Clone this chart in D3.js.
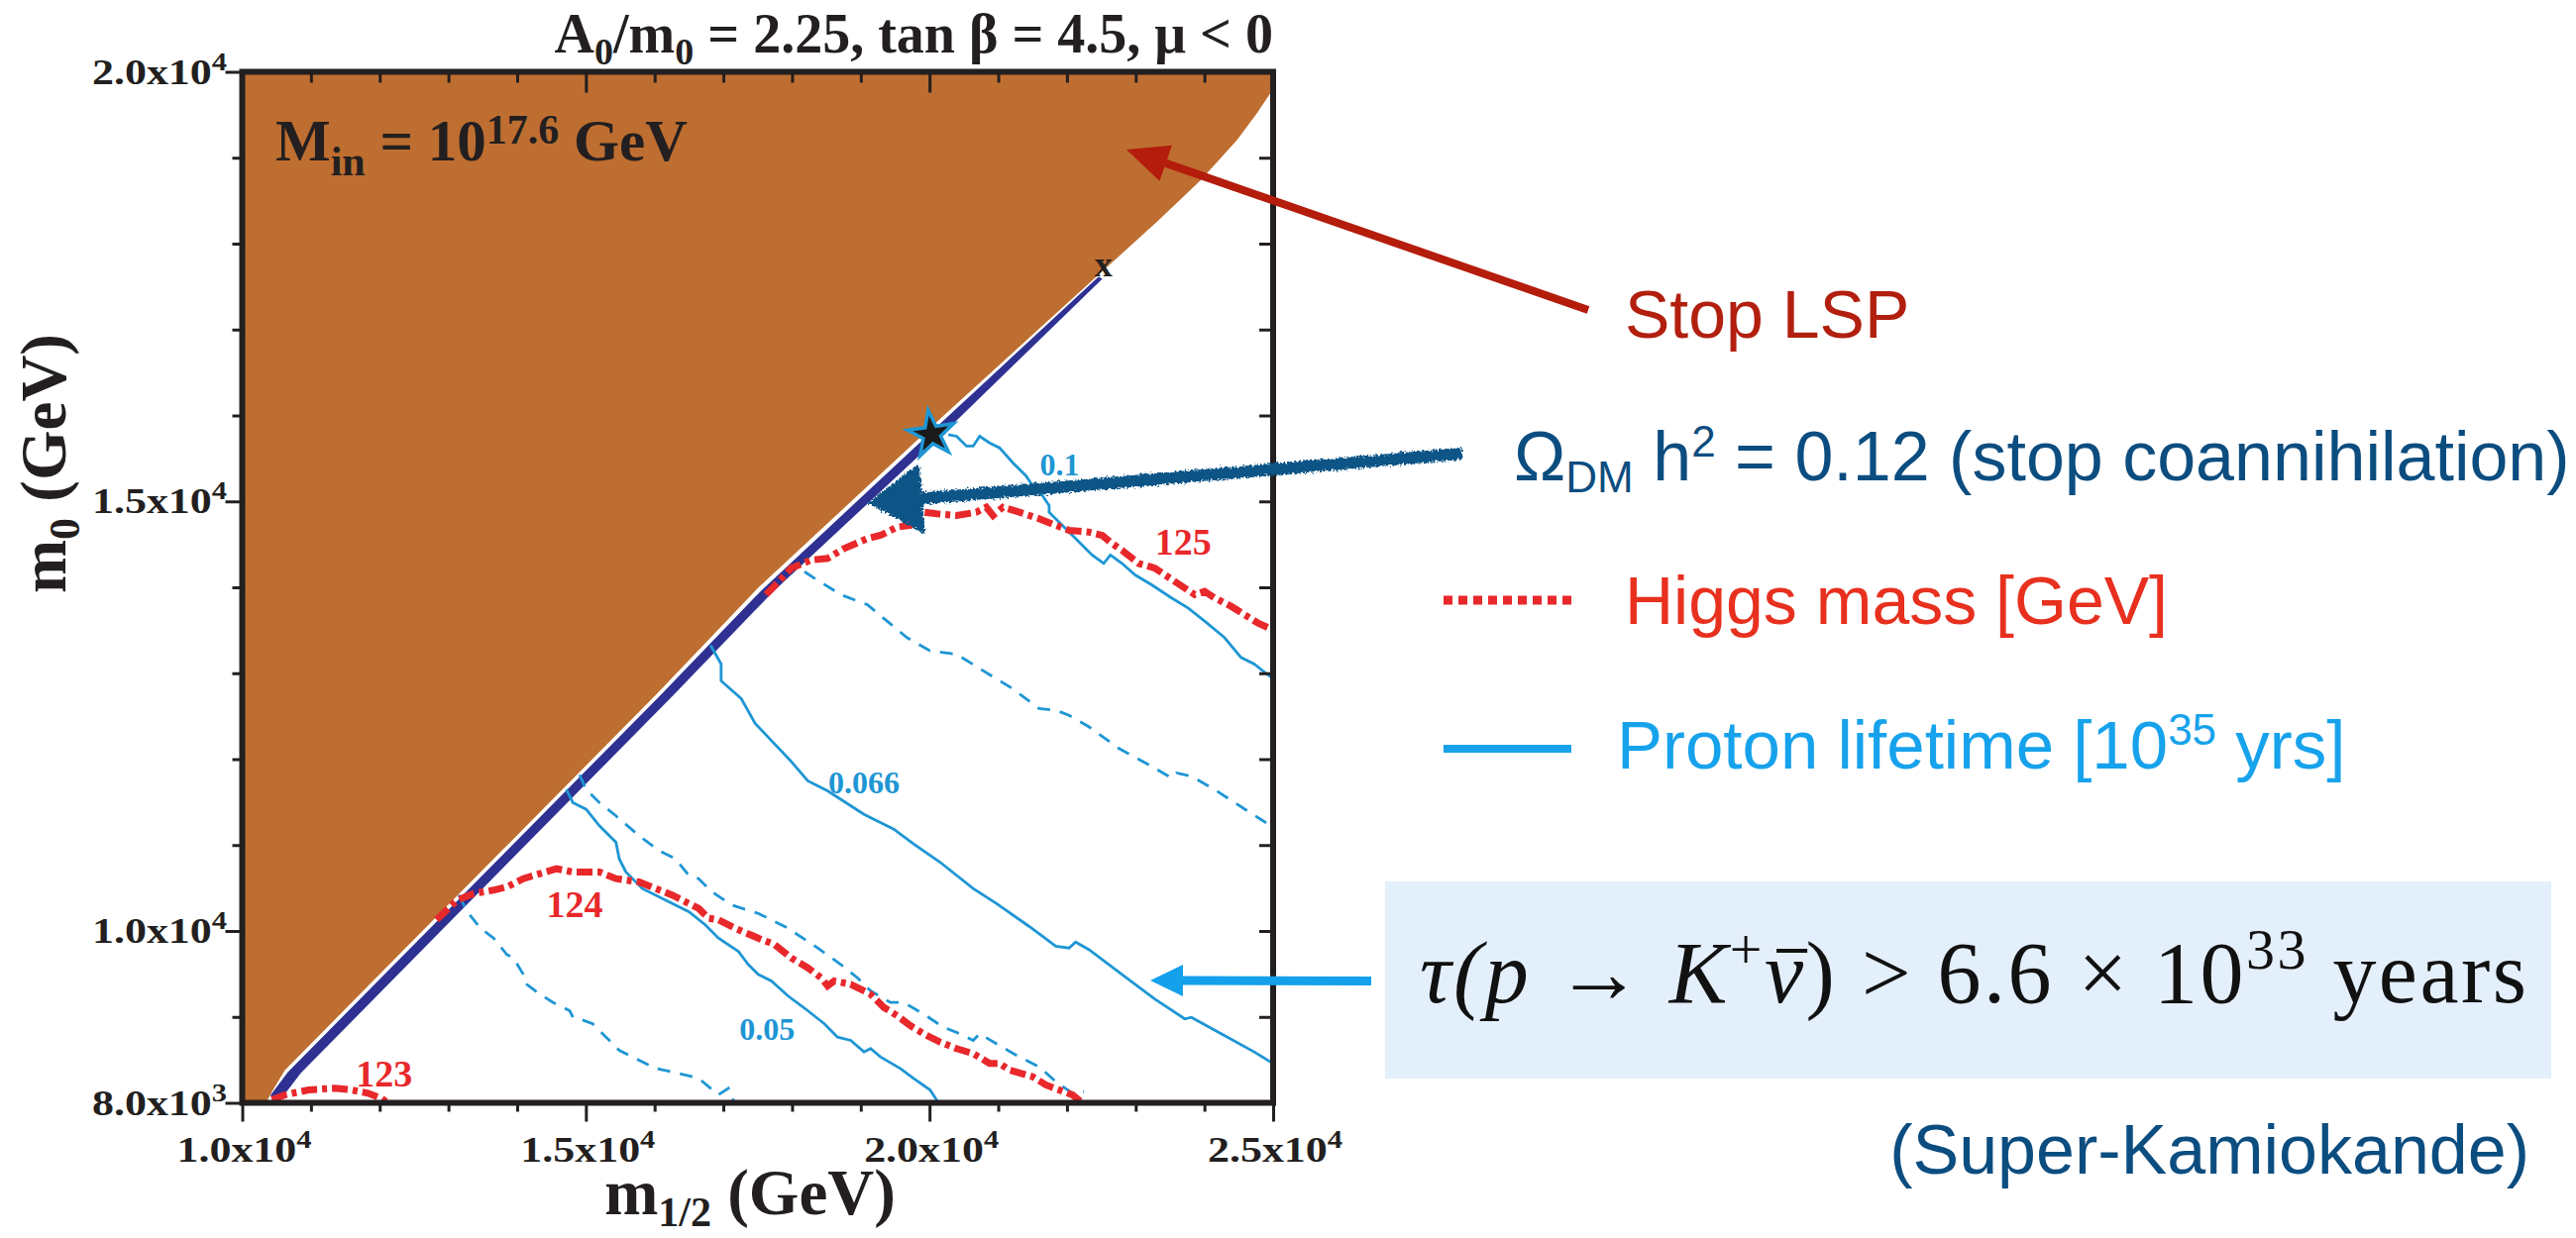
<!DOCTYPE html>
<html>
<head>
<meta charset="utf-8">
<script src="https://cdn.jsdelivr.net/npm/d3@7"></script>
<style>
  body { margin: 0; background: #fff; }
</style>
</head>
<body>
<div id="chart"></div>
<script>
// ---- data (m1/2, m0) in GeV ----
const xTickVals = [10000, 11000, 12000, 13000, 14000, 15000, 16000, 17000, 18000, 19000, 20000, 21000, 22000, 23000, 24000, 25000]
const xMajor = [10000, 15000, 20000, 25000]
const yTickVals = [8000, 9000, 10000, 11000, 12000, 13000, 14000, 15000, 16000, 17000, 18000, 19000, 20000]
const yMajor = [8000, 10000, 15000, 20000]

// stop LSP boundary (edge of excluded region), bottom -> top
const lspEdge = [[10346, 8000], [10447, 8150], [10621, 8381], [16034, 12761], [17507, 13995], [20192, 15989],
  [22458, 17637], [23324, 18265], [23945, 18738], [24479, 19210], [24768, 19522], [25000, 19798]]

// Omega h^2 = 0.12 strip
const dmBandLeft = [[10404, 8081], [10664, 8358], [16078, 12738], [17550, 13960], [20221, 15954], [22458, 17614]]
const dmBandRight = [[22516, 17591], [20336, 15896], [17709, 13937], [16265, 12738], [10852, 8346], [10577, 8058]]

// Higgs mass contours
const higgs123 = [[10433, 8035], [10625, 8093], [10963, 8150], [11347, 8170], [11588, 8150], [11829, 8112], [12021, 8054], [12118, 8000]]
const higgs124 = [[12829, 10130], [13128, 10360], [13368, 10436], [13657, 10475], [13850, 10513], [14090, 10609], [14331, 10667],
  [14572, 10724], [14812, 10686], [15197, 10686], [15438, 10609], [15774, 10571], [16015, 10494], [16255, 10418], [16449, 10340],
  [16641, 10263], [16785, 10148], [16929, 10129], [17170, 10032], [17507, 9917], [17748, 9841], [17987, 9687], [18229, 9572],
  [18420, 9456], [18517, 9361], [18614, 9418], [18854, 9380], [19142, 9265], [19336, 9110], [19528, 9015], [19720, 8899],
  [19913, 8804], [20153, 8707], [20394, 8631], [20635, 8573], [20875, 8458], [21019, 8458], [21163, 8381], [21501, 8304],
  [21693, 8208], [21885, 8150], [22079, 8093], [22223, 8000]]
const higgs125 = [[17622, 13914], [17987, 14222], [18276, 14317], [18517, 14337], [18758, 14452], [19095, 14567], [19287, 14605],
  [19528, 14701], [19720, 14721], [19913, 14874], [20105, 14855], [20394, 14836], [20683, 14874], [20827, 14932], [20924, 14836],
  [21068, 14932], [21308, 14874], [21596, 14798], [21838, 14721], [22030, 14663], [22318, 14643], [22512, 14605], [22656, 14510],
  [22800, 14432], [23040, 14279], [23281, 14222], [23570, 14067], [23859, 13914], [24003, 13952], [24147, 13876], [24388, 13779],
  [24580, 13683], [24773, 13587], [25000, 13504]]

// proton lifetime contours [10^35 yrs]
const tau010 = [[20274, 15778], [20394, 15758], [20538, 15643], [20635, 15643], [20730, 15758], [20875, 15681], [21019, 15623],
  [21212, 15450], [21404, 15297], [21501, 15182], [21645, 15066], [21741, 14951], [21741, 14874], [21934, 14721], [22126, 14567],
  [22367, 14375], [22535, 14279], [22632, 14375], [22800, 14279], [22992, 14144], [23233, 14029], [23522, 13876], [23762, 13760],
  [24003, 13606], [24292, 13415], [24533, 13184], [24725, 13107], [25000, 12934]]
const tau0066 = [[16814, 13326], [16968, 13107], [16968, 12911], [17261, 12703], [17463, 12415], [17969, 11989], [18229, 11747],
  [18517, 11631], [19047, 11358], [19480, 11185], [19769, 11012], [20153, 10801], [20635, 10494], [20971, 10321], [21452, 10052],
  [21838, 9822], [22030, 9802], [22126, 9871], [22318, 9784], [22800, 9495], [23281, 9207], [23714, 8977], [23811, 8995],
  [24244, 8804], [24725, 8592], [25000, 8458]]
const tau005 = [[14716, 11646], [14812, 11493], [15005, 11416], [15197, 11224], [15438, 11032], [15486, 10839], [15582, 10686],
  [15822, 10494], [16207, 10340], [16496, 10225], [16737, 10072], [16929, 9917], [17218, 9764], [17362, 9611], [17507, 9495],
  [17699, 9418], [17940, 9245], [18229, 9072], [18470, 8919], [18662, 8765], [18854, 8727], [19047, 8592], [19142, 8631],
  [19287, 8534], [19575, 8400], [19769, 8285], [20009, 8150], [20130, 8000]]
const tauDashUpper = [[18181, 14182], [18325, 14106], [18709, 13914], [19095, 13798], [19383, 13606], [19672, 13415], [20009, 13260],
  [20394, 13222], [20779, 13030], [21212, 12819], [21596, 12588], [21838, 12569], [22030, 12511], [22318, 12377], [22752, 12127],
  [23233, 11916], [23522, 11781], [23594, 11839], [23811, 11801], [24147, 11646], [24628, 11397], [24966, 11224], [25000, 11210]]
const tauDashMid = [[14908, 11819], [15005, 11646], [15197, 11493], [15438, 11340], [15774, 11109], [16063, 10936], [16304, 10839],
  [16496, 10648], [16641, 10609], [16833, 10456], [17121, 10302], [17507, 10205], [17940, 10032], [18373, 9802], [18709, 9611],
  [18950, 9456], [19142, 9303], [19431, 9168], [19624, 9168], [19913, 9034], [20202, 8880], [20442, 8804], [20635, 8727],
  [20730, 8804], [20971, 8688], [21308, 8534], [21596, 8419], [21838, 8246], [22079, 8112], [22246, 8131]]
const tauDashLower = [[13151, 10418], [13273, 10225], [13465, 10032], [13657, 9917], [13850, 9726], [13945, 9687], [14090, 9495],
  [14139, 9380], [14331, 9265], [14523, 9168], [14764, 9072], [14812, 8995], [14908, 8977], [15100, 8919], [15294, 8765],
  [15486, 8611], [15774, 8496], [16015, 8400], [16255, 8361], [16641, 8285], [16929, 8093], [17074, 8170], [17160, 8000]]

const starPoint = [20030, 15780]
const endMark = [22530, 17625]

const higgsLabels = [["123", 12064, 8185], ["124", 14836, 10167], ["125", 23693, 14375]]
const tauLabels = [["0.1", 21895, 15297], ["0.066", 19047, 11608], ["0.05", 17637, 8727]]

// arrow tips inside the plot
const stopTip = [22866, 19095]
const omegaTip = [19103, 14980]
const skTip = [23212, 9424]

// ---- colours ----
const brown = "#BE6E30"
const navy = "#2E3192"
const higgsRed = "#E8282B"
const tauBlue = "#1E96D4"
const ink = "#231F20"
const serif = "'Liberation Serif', 'Times New Roman', serif"
const sans = "'Liberation Sans', Arial, Helvetica, sans-serif"

let width = 2600
let height = 1250

let svg = d3.select("#chart")
  .append("svg")
  .attr("width", width)
  .attr("height", height)
  .style("background", "#fff")

let x = d3.scaleLinear().domain([10000, 25000]).range([244.5, 1285])
let y = d3.scaleLinear().domain([8000, 20000]).range([1113.5, 72.5])

let line = d3.line().x(d => x(d[0])).y(d => y(d[1]))

let defs = svg.append("defs")
defs.append("clipPath").attr("id", "plotClip")
  .append("rect")
  .attr("x", x(10000)).attr("y", y(20000))
  .attr("width", x(25000) - x(10000)).attr("height", y(8000) - y(20000))

let rough = defs.append("filter").attr("id", "rough")
  .attr("x", "-10%").attr("y", "-30%").attr("width", "120%").attr("height", "160%")
rough.append("feTurbulence").attr("type", "fractalNoise").attr("baseFrequency", 0.45)
  .attr("numOctaves", 2).attr("seed", 4).attr("result", "noise")
rough.append("feDisplacementMap").attr("in", "SourceGraphic").attr("in2", "noise")
  .attr("scale", 7).attr("xChannelSelector", "R").attr("yChannelSelector", "G")

let plot = svg.append("g").attr("clip-path", "url(#plotClip)")

// stop LSP region
let brownPoly = [[10000, 20000], [25000, 20000]].concat(lspEdge.slice().reverse(), [[10000, 8000]])
plot.append("path")
  .attr("d", line(brownPoly) + "Z")
  .attr("fill", brown)

// relic density strip
plot.append("path")
  .attr("d", line(dmBandLeft.concat(dmBandRight)) + "Z")
  .attr("fill", navy)

// proton lifetime contours
let tauSolid = [tau010, tau0066, tau005]
let tauDashed = [tauDashUpper, tauDashMid, tauDashLower]

plot.append("g")
  .selectAll("path")
  .data(tauSolid)
  .enter().append("path")
    .attr("d", line)
    .attr("fill", "none")
    .attr("stroke", tauBlue)
    .attr("stroke-width", 2.8)

plot.append("g")
  .selectAll("path")
  .data(tauDashed)
  .enter().append("path")
    .attr("d", line)
    .attr("fill", "none")
    .attr("stroke", tauBlue)
    .attr("stroke-width", 2.8)
    .attr("stroke-dasharray", "13,10")

// Higgs contours
plot.append("g")
  .selectAll("path")
  .data([higgs123, higgs124, higgs125])
  .enter().append("path")
    .attr("d", line)
    .attr("fill", "none")
    .attr("stroke", higgsRed)
    .attr("stroke-width", 7)
    .attr("stroke-dasharray", "16,5,5,5")

// star
svg.append("path")
  .attr("d", d3.symbol(d3.symbolStar, 680)())
  .attr("transform", `translate(${x(starPoint[0])},${y(starPoint[1])}) rotate(-8)`)
  .attr("fill", "#1a1a1a")
  .attr("stroke", tauBlue)
  .attr("stroke-width", 3.5)

svg.append("text")
  .attr("x", x(endMark[0]))
  .attr("y", y(endMark[1]))
  .attr("text-anchor", "middle")
  .style("font", `bold 36px ${serif}`)
  .attr("fill", ink)
  .text("x")

// contour labels
svg.append("g")
  .attr("text-anchor", "middle")
  .style("font", `bold 38px ${serif}`)
  .attr("fill", higgsRed)
  .selectAll("text")
  .data(higgsLabels)
  .enter().append("text")
    .attr("x", d => x(d[1]))
    .attr("y", d => y(d[2]))
    .text(d => d[0])

svg.append("g")
  .attr("text-anchor", "middle")
  .style("font", `bold 32px ${serif}`)
  .attr("fill", tauBlue)
  .selectAll("text")
  .data(tauLabels)
  .enter().append("text")
    .attr("x", d => x(d[1]))
    .attr("y", d => y(d[2]))
    .text(d => d[0])

// M_in label
let mIn = svg.append("text")
  .attr("x", 278).attr("y", 162)
  .style("font", `bold 59px ${serif}`)
  .attr("fill", ink)
mIn.append("tspan").text("M")
mIn.append("tspan").attr("dy", 15).attr("font-size", 42).text("in")
mIn.append("tspan").attr("dy", -15).text(" = 10")
mIn.append("tspan").attr("dy", -17).attr("font-size", 42).text("17.6")
mIn.append("tspan").attr("dy", 17).text(" GeV")

// ---- axes ----
function styleAxis(g) {
  g.select(".domain").remove()
  g.selectAll("line").attr("stroke", ink).attr("stroke-width", 3)
}
let xMinorVals = xTickVals.filter(v => !xMajor.includes(v))
let yMinorVals = yTickVals.filter(v => !yMajor.includes(v))

svg.append("g").attr("transform", `translate(0,${y(8000)})`)
  .call(d3.axisBottom(x).tickValues(xMinorVals).tickSize(9).tickFormat("")).call(styleAxis)
svg.append("g").attr("transform", `translate(0,${y(8000)})`)
  .call(d3.axisBottom(x).tickValues(xMajor).tickSize(19).tickFormat("")).call(styleAxis)
svg.append("g").attr("transform", `translate(0,${y(20000)})`)
  .call(d3.axisTop(x).tickValues(xMinorVals).tickSize(-11).tickFormat("")).call(styleAxis)
svg.append("g").attr("transform", `translate(0,${y(20000)})`)
  .call(d3.axisTop(x).tickValues(xMajor).tickSize(-21).tickFormat("")).call(styleAxis)
svg.append("g").attr("transform", `translate(${x(10000)},0)`)
  .call(d3.axisLeft(y).tickValues(yMinorVals).tickSize(10).tickFormat("")).call(styleAxis)
svg.append("g").attr("transform", `translate(${x(10000)},0)`)
  .call(d3.axisLeft(y).tickValues(yMajor).tickSize(17).tickFormat("")).call(styleAxis)
svg.append("g").attr("transform", `translate(${x(25000)},0)`)
  .call(d3.axisRight(y).tickValues(yTickVals).tickSize(-14).tickFormat("")).call(styleAxis)

svg.append("rect")
  .attr("x", x(10000)).attr("y", y(20000))
  .attr("width", x(25000) - x(10000)).attr("height", y(8000) - y(20000))
  .attr("fill", "none")
  .attr("stroke", ink)
  .attr("stroke-width", 6)

// tick labels look horizontally stretched in the original, so fit them to a width
function sciLabel(sel, v) {
  let e = Math.floor(Math.log10(v))
  let m = v / Math.pow(10, e)
  sel.append("tspan").text(m.toFixed(1) + "x10")
  sel.append("tspan").attr("dy", -14).attr("font-size", 25).text(e)
  sel.attr("textLength", 136).attr("lengthAdjust", "spacingAndGlyphs")
}

svg.append("g")
  .attr("text-anchor", "middle")
  .style("font", `bold 36px ${serif}`)
  .attr("fill", ink)
  .selectAll("text")
  .data(xMajor)
  .enter().append("text")
    .attr("x", d => x(d) + 2)
    .attr("y", 1173)
    .each(function (d) { sciLabel(d3.select(this), d) })

svg.append("g")
  .attr("text-anchor", "end")
  .style("font", `bold 36px ${serif}`)
  .attr("fill", ink)
  .selectAll("text")
  .data(yMajor)
  .enter().append("text")
    .attr("x", 229)
    .attr("y", d => y(d) + 12)
    .each(function (d) { sciLabel(d3.select(this), d) })

// axis titles
let xTitle = svg.append("text")
  .attr("x", 757).attr("y", 1226)
  .attr("text-anchor", "middle")
  .style("font", `bold 65px ${serif}`)
  .attr("fill", ink)
xTitle.append("tspan").text("m")
xTitle.append("tspan").attr("dy", 12).attr("font-size", 42).text("1/2")
xTitle.append("tspan").attr("dy", -12).text(" (GeV)")

let yTitle = svg.append("text")
  .attr("transform", "translate(66,468) rotate(-90)")
  .attr("text-anchor", "middle")
  .style("font", `bold 65px ${serif}`)
  .attr("fill", ink)
yTitle.append("tspan").text("m")
yTitle.append("tspan").attr("dy", 14).attr("font-size", 44).text("0")
yTitle.append("tspan").attr("dy", -14).text(" (GeV)")

let title = svg.append("text")
  .attr("x", 1285).attr("y", 53)
  .attr("text-anchor", "end")
  .style("font", `bold 56px ${serif}`)
  .attr("fill", ink)
title.append("tspan").text("A")
title.append("tspan").attr("dy", 12).attr("font-size", 38).text("0")
title.append("tspan").attr("dy", -12).text("/m")
title.append("tspan").attr("dy", 12).attr("font-size", 38).text("0")
title.append("tspan").attr("dy", -12).text(" = 2.25, tan \u03B2 = 4.5, \u03BC < 0")

// ---- annotations ----
function arrow(tip, tail, headLen, headHalf, w, color, filter) {
  let dx = tail[0] - tip[0], dy = tail[1] - tip[1]
  let len = Math.hypot(dx, dy)
  let ux = dx / len, uy = dy / len
  let bx = tip[0] + ux * headLen, by = tip[1] + uy * headLen
  let g = svg.append("g")
  if (filter) g.attr("filter", filter)
  g.append("line")
    .attr("x1", bx - ux * 2).attr("y1", by - uy * 2)
    .attr("x2", tail[0]).attr("y2", tail[1])
    .attr("stroke", color).attr("stroke-width", w)
  g.append("path")
    .attr("d", `M${tip[0]},${tip[1]}L${bx - uy * headHalf},${by + ux * headHalf}L${bx + uy * headHalf},${by - ux * headHalf}Z`)
    .attr("fill", color)
}

arrow([x(stopTip[0]), y(stopTip[1])], [1603, 313], 42, 19, 8, "#B41C0C")
arrow([x(omegaTip[0]), y(omegaTip[1])], [1476, 458], 55, 36, 12, "#0B5587", "url(#rough)")
arrow([x(skTip[0]), y(skTip[1])], [1384, 990.5], 33, 16, 9, "#14A0EB")

svg.append("text")
  .attr("x", 1640).attr("y", 341)
  .style("font", `68px ${sans}`)
  .attr("fill", "#B21F0F")
  .text("Stop LSP")

let omegaText = svg.append("text")
  .attr("x", 1528).attr("y", 485)
  .style("font", `70px ${sans}`)
  .attr("fill", "#0C4D80")
omegaText.append("tspan").text("\u03A9")
omegaText.append("tspan").attr("dy", 12).attr("font-size", 44).text("DM")
omegaText.append("tspan").attr("dy", -12).text(" h")
omegaText.append("tspan").attr("dy", -24).attr("font-size", 44).text("2")
omegaText.append("tspan").attr("dy", 24).text(" = 0.12 (stop coannihilation)")

svg.append("line")
  .attr("x1", 1457).attr("x2", 1586).attr("y1", 606).attr("y2", 606)
  .attr("stroke", higgsRed).attr("stroke-width", 9).attr("stroke-dasharray", "9,6")
svg.append("text")
  .attr("x", 1640).attr("y", 630)
  .style("font", `68px ${sans}`)
  .attr("fill", "#E8301F")
  .text("Higgs mass [GeV]")

svg.append("line")
  .attr("x1", 1457).attr("x2", 1586).attr("y1", 756).attr("y2", 756)
  .attr("stroke", "#17A2EC").attr("stroke-width", 8)
let protonText = svg.append("text")
  .attr("x", 1632).attr("y", 776)
  .style("font", `69px ${sans}`)
  .attr("fill", "#17A2EC")
protonText.append("tspan").text("Proton lifetime [10")
protonText.append("tspan").attr("dy", -24).attr("font-size", 44).text("35")
protonText.append("tspan").attr("dy", 24).text(" yrs]")

svg.append("rect")
  .attr("x", 1398).attr("y", 890)
  .attr("width", 1177).attr("height", 199)
  .attr("fill", "#E3EFFB")

let formula = svg.append("text")
  .attr("x", 1433).attr("y", 1012)
  .style("font", `88px ${serif}`)
  .attr("fill", "#111")
  .attr("textLength", 1117)
  .attr("lengthAdjust", "spacing")
formula.append("tspan").attr("font-style", "italic").text("\u03C4(p")
formula.append("tspan").text(" \u2192 ")
formula.append("tspan").attr("font-style", "italic").text("K")
formula.append("tspan").attr("dy", -34).attr("font-size", 58).text("+")
let nuSpan = formula.append("tspan").attr("dy", 34).attr("font-style", "italic").text("\u03BD")
formula.append("tspan").text(") > 6.6 \u00D7 10")
formula.append("tspan").attr("dy", -34).attr("font-size", 58).text("33")
formula.append("tspan").attr("dy", 34).text(" years")

// bar over nu
let fNode = formula.node()
let nuIndex = fNode.textContent.indexOf("\u03BD")
let nuStart = fNode.getStartPositionOfChar(nuIndex)
let nuEnd = fNode.getEndPositionOfChar(nuIndex)
svg.append("line")
  .attr("x1", nuStart.x + 12).attr("x2", nuEnd.x + 4)
  .attr("y1", 1012 - 52).attr("y2", 1012 - 52)
  .attr("stroke", "#111").attr("stroke-width", 4)

svg.append("text")
  .attr("x", 2553).attr("y", 1185)
  .attr("text-anchor", "end")
  .style("font", `70px ${sans}`)
  .attr("fill", "#0C4D80")
  .text("(Super-Kamiokande)")
</script>
</body>
</html>
